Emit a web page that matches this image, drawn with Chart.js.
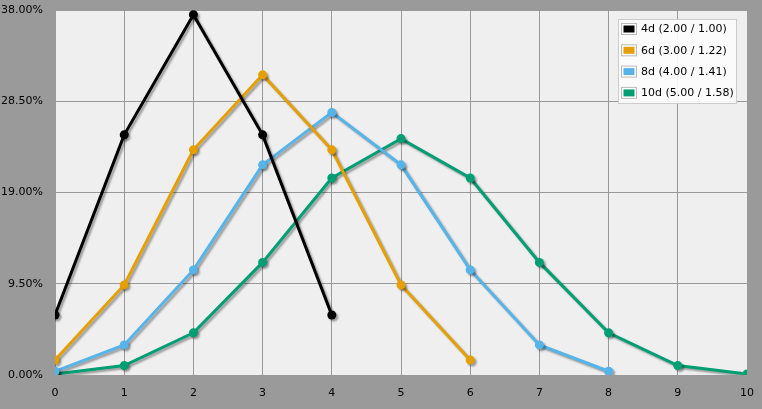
<!DOCTYPE html>
<html><head><meta charset="utf-8">
<script src="https://cdn.jsdelivr.net/npm/chart.js@4/dist/chart.umd.min.js"></script>
<style>html,body{margin:0;padding:0;background:#9a9a9a}#wrap{width:762px;height:409px}</style>
</head><body><div id="wrap"><canvas id="c" width="762" height="409"></canvas></div>
<script>
const categories = [0,1,2,3,4,5,6,7,8,9,10];
const tickLabels = ["0.00%","9.50%","19.00%","28.50%","38.00%"];
const labels4d = "4d (2.00 / 1.00)";
const labels6d = "6d (3.00 / 1.22)";
const labels8d = "8d (4.00 / 1.41)";
const labels10d = "10d (5.00 / 1.58)";
const values4d = [6.25,25.0,37.5,25.0,6.25];
const values6d = [1.56,9.38,23.44,31.25,23.44,9.38,1.56];
const values8d = [0.39,3.13,10.94,21.88,27.34,21.88,10.94,3.13,0.39];
const values10d = [0.10,0.98,4.39,11.72,20.51,24.61,20.51,11.72,4.39,0.98,0.10];
const colors = ["#000000","#E69F00","#56B4E9","#009E73"];

function ds(label, vals, color){
  return {label, data: vals.map((v,i)=>({x:categories[i], y:v})), borderColor:color, backgroundColor:color,
    borderWidth:3, pointRadius:4.5, pointHoverRadius:4.5, pointBorderWidth:0, tension:0, clip:0};
}
const font = {family:"'DejaVu Sans', Verdana, sans-serif", size:11};

const bgPlugin = {
  id:'bg',
  beforeDraw(chart){
    const {ctx, chartArea:a} = chart;
    ctx.save();
    ctx.fillStyle='#9a9a9a'; ctx.fillRect(0,0,chart.width,chart.height);
    ctx.fillStyle='#efefef'; ctx.fillRect(a.left,a.top,a.right-a.left,a.bottom-a.top);
    ctx.restore();
  },
  beforeDatasetDraw(chart){
    const ctx=chart.ctx; ctx.save();
    ctx.shadowColor='rgba(0,0,0,0.35)'; ctx.shadowBlur=2; ctx.shadowOffsetX=2; ctx.shadowOffsetY=2;
  },
  afterDatasetDraw(chart){ chart.ctx.restore(); },
  afterDraw(chart){
    const ctx=chart.ctx;
    const x=618.5, y=19.5, w=118, h=84;
    ctx.save();
    ctx.fillStyle='rgba(252,252,252,0.92)'; ctx.fillRect(x,y,w,h);
    ctx.strokeStyle='#cccccc'; ctx.lineWidth=1; ctx.strokeRect(x,y,w,h);
    ctx.font="11px 'DejaVu Sans', Verdana, sans-serif";
    ctx.textBaseline='middle';
    chart.data.datasets.forEach((d,i)=>{
      const cy=29.5+i*21.3;
      ctx.fillStyle='#ffffff'; ctx.fillRect(621.5,cy-6,15,11);
      ctx.strokeStyle='#bbbbbb'; ctx.strokeRect(621.5,cy-6,15,11);
      ctx.fillStyle=d.borderColor; ctx.fillRect(623.5,cy-4,11,7);
      ctx.fillStyle='#000'; ctx.fillText(d.label,641,cy);
    });
    ctx.restore();
  }
};

new Chart(document.getElementById('c'),{
  type:'line',
  data:{datasets:[ds(labels4d,values4d,colors[0]),ds(labels6d,values6d,colors[1]),ds(labels8d,values8d,colors[2]),ds(labels10d,values10d,colors[3])]},
  options:{
    responsive:false, animation:false, devicePixelRatio:1,
    layout:{padding:{top:10,right:15,left:0,bottom:0}},
    plugins:{legend:{display:false},tooltip:{enabled:false}},
    scales:{
      x:{type:'linear',min:0,max:10,
        afterFit(s){s.height=34; s.paddingRight=0; s.paddingLeft=0;},
        ticks:{stepSize:1,color:'#000',font,padding:12,maxRotation:0,callback:(v)=>String(v)},
        grid:{color:'#999999',lineWidth:1,drawTicks:false},border:{display:false}},
      y:{min:0,max:38,
        afterFit(s){s.width=55; s.paddingTop=0; s.paddingBottom=0;},
        afterBuildTicks(s){s.ticks=tickLabels.map((t,i)=>({value:i*9.5}));},
        ticks:{color:'#000',font,padding:12,callback:(v,i)=>tickLabels[i]},
        grid:{color:'#999999',lineWidth:1,drawTicks:false},border:{display:false}}
    }
  },
  plugins:[bgPlugin]
});
</script></body></html>
